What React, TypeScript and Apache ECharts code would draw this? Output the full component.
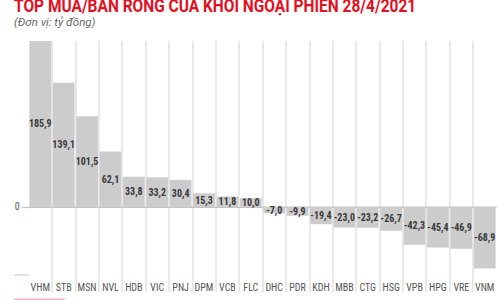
import React, { useEffect, useRef } from "react";
import * as echarts from "echarts";

const categories = ["VHM", "STB", "MSN", "NVL", "HDB", "VIC", "PNJ", "DPM", "VCB", "FLC", "DHC", "PDR", "KDH", "MBB", "CTG", "HSG", "VPB", "HPG", "VRE", "VNM"];
const values = [185.9, 139.1, 101.5, 62.1, 33.8, 33.2, 30.4, 15.3, 11.8, 10.0, -7.0, -9.9, -19.4, -23.0, -23.2, -26.7, -42.3, -45.4, -46.9, -68.9];
const yTickLabels = [0];

const TITLE = "TOP MUA/BÁN RÒNG CỦA KHỐI NGOẠI PHIÊN 28/4/2021";
const SUBTITLE = "(Đơn vị: tỷ đồng)";

const NARROW = "'Liberation Sans Narrow', 'Roboto Condensed', Roboto, sans-serif";

export default function App() {
  const ref = useRef<HTMLDivElement>(null);
  useEffect(() => {
    if (!ref.current) return;
    const chart = echarts.init(ref.current, undefined, { renderer: "svg" });
    chart.setOption({
      animation: false,
      backgroundColor: "#ffffff",
      grid: { left: 28.6, right: 4.6, top: 41, bottom: 8, containLabel: false },
      xAxis: {
        type: "category",
        data: categories,
        position: "bottom",
        offset: -17,
        boundaryGap: true,
        axisLine: { show: true, lineStyle: { color: "#d9d9d9", width: 1.5 } },
        axisTick: { show: false },
        axisLabel: { color: "#555555", fontSize: 10, fontFamily: NARROW, margin: 7, interval: 0 },
        splitLine: { show: true, showMinLine: false, showMaxLine: false, interval: 0, lineStyle: { color: "#e2e2e2", width: 1.5 } },
      },
      yAxis: {
        type: "value",
        min: -95.2,
        max: 185.9,
        axisLine: { show: false },
        splitLine: { show: false },
        axisTick: { show: true, customValues: yTickLabels, length: 7, lineStyle: { color: "#c4c4c4", width: 1.2 } },
        axisLabel: { show: true, customValues: yTickLabels, color: "#555555", fontSize: 10, fontFamily: NARROW, margin: 9 },
      },
      series: [
        {
          type: "bar",
          data: values,
          barCategoryGap: "7%",
          itemStyle: { color: "#cccccc" },
          label: {
            show: true,
            position: "inside",
            color: "#3a3a3a",
            fontWeight: "bold",
            fontSize: 10,
            fontFamily: NARROW,
            formatter: (p: any) => Number(p.value).toFixed(1).replace(".", ","),
          },
          markLine: {
            silent: true,
            symbol: "none",
            label: { show: false },
            lineStyle: { color: "#c4c4c4", width: 1.2, type: "solid" },
            data: [{ yAxis: 0 }],
            z: 1,
          },
        },
      ],
      graphic: [
        {
          type: "text",
          x: 14,
          y: 5,
          scaleX: 0.815,
          style: {
            text: TITLE,
            fill: "#e3101f",
            font: "bold 19px Roboto, sans-serif",
            verticalAlign: "middle",
          },
        },
        {
          type: "text",
          x: 14,
          y: 22,
          style: {
            text: SUBTITLE,
            fill: "#666666",
            font: "italic 11.5px Roboto, sans-serif",
            verticalAlign: "middle",
          },
        },
        {
          type: "line",
          shape: { x1: 14, y1: 275, x2: 29, y2: 275 },
          style: { stroke: "#d9d9d9", lineWidth: 1.5 },
        },
        {
          type: "rect",
          shape: { x: 14, y: 298.5, width: 51, height: 2 },
          style: { fill: "#f5b5bd" },
        },
      ],
    });
    return () => chart.dispose();
  }, []);
  return <div ref={ref} style={{ position: "fixed", left: 0, top: 0, width: 501, height: 300 }} />;
}
